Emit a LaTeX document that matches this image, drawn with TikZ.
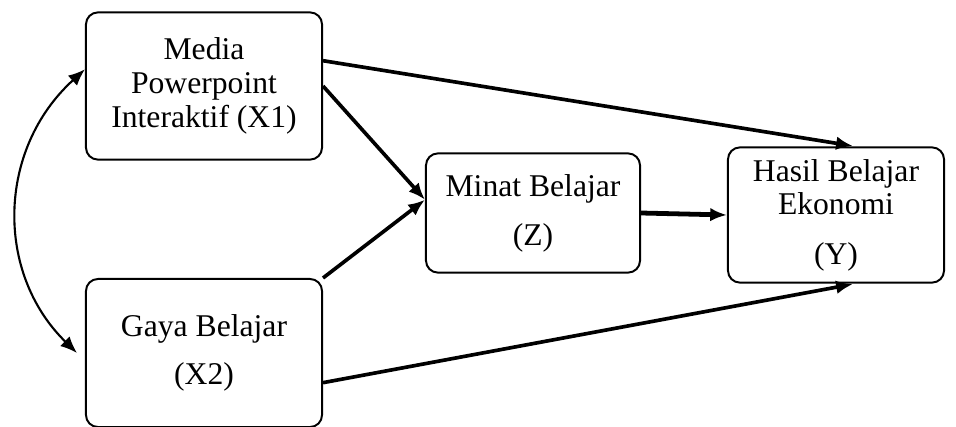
\documentclass[tikz,border=0pt]{standalone}
\usepackage{fontspec}
\setmainfont{Liberation Serif}
\usetikzlibrary{arrows.meta}
\begin{document}
\begin{tikzpicture}[x=0.025cm,y=-0.025cm,>={Latex[length=0.42cm,width=0.34cm]},
  box/.style={draw,line width=1.4pt,rounded corners=0.3cm,align=center,
    font=\fontsize{22.5}{24}\selectfont,inner sep=0pt},
  path/.style={->,line width=2.6pt},
  link/.style={<->,line width=1.5pt}]
\useasboundingbox (0,0) rectangle (956,427);
\coordinate (X1c) at (204,86);
\coordinate (X2c) at (204,353);
\coordinate (Zc) at (533,213);
\coordinate (Yc) at (836,215);
\node[box,minimum width=5.9cm,minimum height=3.68cm] (X1) at (X1c) {Media\\Powerpoint\\Interaktif (X1)};
\node[box,minimum width=5.9cm,minimum height=3.7cm] (X2) at (X2c) {Gaya Belajar\\[10pt](X2)};
\node[box,minimum width=5.35cm,minimum height=2.98cm] (Z) at (Zc) {Minat Belajar\\[11pt](Z)};
\node[box,minimum width=5.4cm,minimum height=3.38cm] (Y) at (Yc) {Hasil Belajar\\Ekonomi\\[11pt](Y)};
\draw[path,shorten >=2pt] (X1.12) -- (Y.74);
\draw[path] (X1.east) -- (Z.173);
\draw[path] (X2.north east) -- (Z.173);
\draw[path,shorten >=2pt] (X2.-14) -- (Y.-74);
\draw[path,line width=3.4pt] (Z.east) -- (Y.west);
\draw[link] (X1.172) .. controls +(-88,80) and +(-82,-80) .. ([xshift=-0.2cm]X2.west);
\end{tikzpicture}
\end{document}
